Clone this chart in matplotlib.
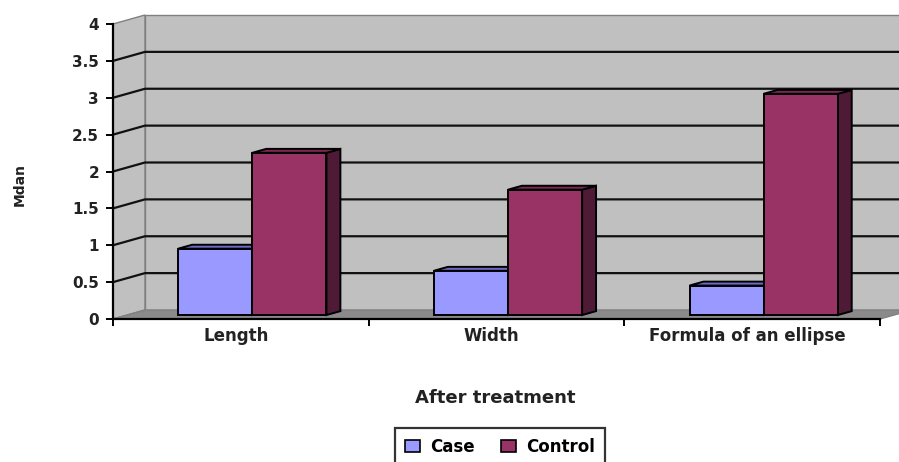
import matplotlib
matplotlib.use("Agg")
import matplotlib.pyplot as plt
from matplotlib.patches import Polygon, Patch

plt.rcParams['font.family'] = ['DejaVu Sans']

# data
categories = ['Length', 'Width', 'Formula of an ellipse']
case_vals = [0.9, 0.6, 0.4]
control_vals = [2.2, 1.7, 3.0]
series_names = ['Case', 'Control']
y_ticks = [0, 0.5, 1, 1.5, 2, 2.5, 3, 3.5, 4]
y_tick_labels = ['0', '0.5', '1', '1.5', '2', '2.5', '3', '3.5', '4']

# colours (Excel classic palette)
case_col = ('#9999ff', '#6b6bc8', '#4c4c80')      # front, top, side
control_col = ('#993366', '#7a2952', '#4f1a35')
wall_col = '#c0c0c0'
floor_col = '#8a8a8a'
edge_col = '#808080'

# depth of the 3d box in data units
DX = 0.125
DY = 0.122
Z0, Z1 = 0.44, 0.875   # bar depth (fraction of box depth)
BW = 0.29              # bar width


def P(x, y, z):
    return (x + z * DX, y + z * DY)


fig = plt.figure(figsize=(8.99, 4.62), dpi=100)
ax = fig.add_axes([113 / 899, 143 / 462, 767 / 899, 295 / 462])
ax.set_xlim(0, 3)
ax.set_ylim(0, 4)
ax.set_facecolor('none')

n = len(categories)

# walls and floor
back = Polygon([P(0, 0, 1), P(n, 0, 1), P(n, 4, 1), P(0, 4, 1)],
               closed=True, facecolor=wall_col, edgecolor=edge_col, lw=1, zorder=1, clip_on=False)
left = Polygon([P(0, 0, 0), P(0, 0, 1), P(0, 4, 1), P(0, 4, 0)],
               closed=True, facecolor=wall_col, edgecolor=edge_col, lw=1, zorder=1, clip_on=False)
floor = Polygon([P(0, 0, 0), P(n, 0, 0), P(n, 0, 1), P(0, 0, 1)],
                closed=True, facecolor=floor_col, edgecolor=edge_col, lw=1, zorder=1.5, clip_on=False)
for p in (back, left, floor):
    ax.add_patch(p)

# gridlines on back wall and left wall
for yv in y_ticks[1:-1]:
    xs, ys = zip(P(0, yv, 0), P(0, yv, 1), P(n, yv, 1))
    ax.plot(xs, ys, color='#111111', lw=1.6, zorder=2, clip_on=False, solid_capstyle='butt')


def bar3d(x0, h, cols):
    front = [P(x0, 0, Z0), P(x0 + BW, 0, Z0), P(x0 + BW, h, Z0), P(x0, h, Z0)]
    top = [P(x0, h, Z0), P(x0 + BW, h, Z0), P(x0 + BW, h, Z1), P(x0, h, Z1)]
    side = [P(x0 + BW, 0, Z0), P(x0 + BW, 0, Z1), P(x0 + BW, h, Z1), P(x0 + BW, h, Z0)]
    for pts, c in ((side, cols[2]), (top, cols[1]), (front, cols[0])):
        ax.add_patch(Polygon(pts, closed=True, facecolor=c, edgecolor='black',
                             lw=1.4, zorder=3, clip_on=False, joinstyle='miter'))


for i in range(n):
    bar3d(i + 0.2, case_vals[i], case_col)
    bar3d(i + 0.2 + BW, control_vals[i], control_col)

# axes
for s in ('top', 'right'):
    ax.spines[s].set_visible(False)
ax.spines['left'].set_linewidth(1.6)
ax.spines['bottom'].set_linewidth(1.6)
ax.spines['left'].set_zorder(4)
ax.spines['bottom'].set_zorder(4)

ax.set_yticks(y_ticks)
ax.set_yticklabels(y_tick_labels, fontsize=11, fontweight='bold', color='#222222')
ax.set_xticks([0, 1, 2, 3])
ax.set_xticklabels([])
ax.set_xticks([i + 0.48 for i in range(n)], minor=True)
ax.set_xticklabels(categories, minor=True, fontsize=12, fontweight='bold', color='#222222')
ax.tick_params(axis='x', which='minor', length=0, pad=6)
ax.tick_params(axis='x', which='major', length=5, width=1.4, direction='out')
ax.tick_params(axis='y', length=5, width=1.4, direction='out', pad=5)

fig.text(20 / 899, 1 - 185 / 462, 'Mdan', rotation=90, ha='center', va='center',
         fontsize=10, fontweight='bold', color='#222222')
fig.text(495 / 899, 1 - 398 / 462, 'After treatment', ha='center', va='center',
         fontsize=13, fontweight='bold', color='#222222')

handles = [Patch(facecolor=case_col[0], edgecolor='black', lw=1.2),
           Patch(facecolor=control_col[0], edgecolor='black', lw=1.2)]
leg = fig.legend(handles, series_names, loc='upper center', ncol=2,
                 bbox_to_anchor=(500 / 899, 1 - 428 / 462),
                 prop={'size': 12, 'weight': 'bold'},
                 frameon=True, fancybox=False, handlelength=0.9, handleheight=0.7,
                 handletextpad=0.6, columnspacing=1.6, borderpad=0.6, borderaxespad=0)
leg.get_frame().set_edgecolor('black')
leg.get_frame().set_linewidth(1.6)

fig.savefig('out.png', dpi=100)
